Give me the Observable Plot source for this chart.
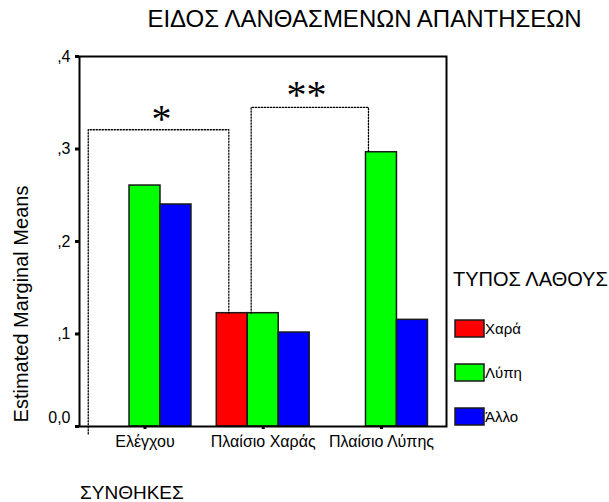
<!DOCTYPE html>
<html>
<head>
<meta charset="utf-8">
<script src="https://cdn.jsdelivr.net/npm/d3@7"></script>
<script src="https://cdn.jsdelivr.net/npm/@observablehq/plot@0.6"></script>
<style>
  body { margin: 0; background: #fff; }
  #chart { width: 609px; height: 502px; }
</style>
</head>
<body>
<div id="chart"></div>
<script>
// ---- texts ----
const title = "ΕΙΔΟΣ ΛΑΝΘΑΣΜΕΝΩΝ ΑΠΑΝΤΗΣΕΩΝ";
const xTitle = "ΣΥΝΘΗΚΕΣ";
const yTitle = "Estimated Marginal Means";
const legendTitle = "ΤΥΠΟΣ ΛΑΘΟΥΣ";

// ---- data ----
const categories = ["Ελέγχου", "Πλαίσιο Χαράς", "Πλαίσιο Λύπης"];
const series = ["Χαρά", "Λύπη", "Άλλο"];
const seriesColors = ["#ff0000", "#00ff00", "#0000ff"];
const xaraValues = [null, 0.1225, null];
const lypiValues = [0.2605, 0.1225, 0.2965];
const alloValues = [0.240, 0.1016, 0.1153];
const yTicks = [0, 0.1, 0.2, 0.3, 0.4];
const yTickLabels = ["0,0", ",1", ",2", ",3", ",4"];

// ---- significance annotations (x in category units, y in data units) ----
const bracketLabels = ["*", "**"];
const bracketLeftX = [-0.48, 0.898];
const bracketRightX = [0.709, 1.890];
const bracketTopY = [0.3208, 0.345];
const bracketLeftBottomY = [-0.008, 0.1225];
const bracketRightBottomY = [0.1225, 0.2965];
const starX = [0.14, 1.366];
const starY = [0.332, 0.358];

// ---- build tables ----
const seriesValues = [xaraValues, lypiValues, alloValues];
const groupWidth = 0.786;
const barW = groupWidth / series.length;
const bars = [];
categories.forEach((c, i) => {
  series.forEach((s, j) => {
    const v = seriesValues[j][i];
    if (v != null) {
      const x1 = i - groupWidth / 2 + j * barW;
      bars.push({category: c, series: s, value: v, x1, x2: x1 + barW});
    }
  });
});
const bracketPts = [];
bracketLabels.forEach((l, k) => {
  bracketPts.push({id: k, x: bracketLeftX[k], y: bracketLeftBottomY[k]});
  bracketPts.push({id: k, x: bracketLeftX[k], y: bracketTopY[k]});
  bracketPts.push({id: k, x: bracketRightX[k], y: bracketTopY[k]});
  bracketPts.push({id: k, x: bracketRightX[k], y: bracketRightBottomY[k]});
});
const stars = bracketLabels.map((l, k) => ({text: l, x: starX[k], y: starY[k]}));
const catIdx = d3.range(categories.length);

const font = "'Liberation Sans', Arial, sans-serif";
const W = 609, H = 502;
const mL = 79, mR = 163, mT = 56, mB = 76;

const chart = Plot.plot({
  width: W, height: H,
  marginLeft: mL, marginRight: mR, marginTop: mT, marginBottom: mB,
  style: {fontFamily: font, fontSize: "15px", color: "#000", background: "#fff", overflow: "visible"},
  x: {domain: [-0.554, 2.55], axis: null},
  y: {domain: [0, 0.4], axis: null},
  color: {domain: series, range: seriesColors},
  marks: [
    Plot.rect(bars, {x1: "x1", x2: "x2", y1: 0, y2: "value", fill: "series", stroke: "#1a1a1a", strokeWidth: 1.5}),
    Plot.axisY(yTicks, {tickSize: 4, strokeWidth: 3, tickFormat: () => "", label: null}),
    Plot.axisX(catIdx, {tickSize: 3, strokeWidth: 3, tickFormat: () => "", label: null}),
    Plot.text(yTicks.filter(d => d > 0), {y: d => d, frameAnchor: "left", textAnchor: "end", dx: -9,
      text: d => yTickLabels[yTicks.indexOf(d)], fontSize: 16, fill: "#000"}),
    Plot.text([0], {y: d => d, frameAnchor: "left", textAnchor: "end", dx: -9, dy: -9,
      text: d => yTickLabels[yTicks.indexOf(d)], fontSize: 16, fill: "#000"}),
    Plot.text(catIdx, {x: d => d, frameAnchor: "bottom", lineAnchor: "top", dy: 9,
      text: i => categories[i], fontSize: 16, fill: "#000"}),
    Plot.frame({stroke: "#000", strokeWidth: 2}),
    Plot.line(bracketPts, {x: "x", y: "y", z: "id", stroke: "#000", strokeWidth: 1.3, strokeDasharray: "1.3,1.7"}),
    Plot.text(stars, {x: "x", y: "y", text: "text", fontSize: 40, fontFamily: "'Liberation Serif', 'DejaVu Serif', serif", fill: "#000"})
  ]
});

document.getElementById("chart").appendChild(chart);

// ---- titles and legend as SVG text ----
const svg = d3.select(chart);
svg.append("text").attr("x", 364.5).attr("y", 26.5).attr("text-anchor", "middle")
  .attr("font-family", font).attr("font-size", 24).attr("fill", "#000").text(title);
svg.append("text").attr("transform", "translate(28,304) rotate(-90)").attr("text-anchor", "middle")
  .attr("font-family", font).attr("font-size", 20).attr("fill", "#000").text(yTitle);
svg.append("text").attr("x", 80).attr("y", 499).attr("text-anchor", "start")
  .attr("font-family", font).attr("font-size", 19).attr("fill", "#000").text(xTitle);
svg.append("text").attr("x", 453).attr("y", 285.5).attr("text-anchor", "start")
  .attr("font-family", font).attr("font-size", 20).attr("fill", "#000").text(legendTitle);

const color = chart.scale("color");
const lg = svg.append("g");
series.forEach((s, k) => {
  const top = 320 + k * 44;
  lg.append("rect").attr("x", 455).attr("y", top).attr("width", 29).attr("height", 17)
    .attr("fill", color.apply(s)).attr("stroke", "#1a1a1a").attr("stroke-width", 1.5);
  lg.append("text").attr("x", 485).attr("y", top + 14).attr("text-anchor", "start")
    .attr("font-family", font).attr("font-size", 15).attr("fill", "#000").text(s);
});
</script>
</body>
</html>
